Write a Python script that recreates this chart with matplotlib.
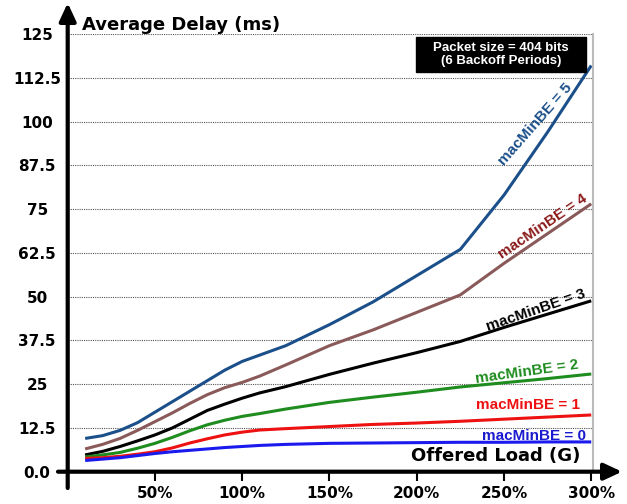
import numpy as np
import matplotlib.pyplot as plt
from matplotlib.patches import Rectangle

# offered load (%) and average delay (ms) per macMinBE value
load = [10, 20, 30, 40, 50, 60, 70, 80, 90, 100, 110, 125, 150, 175, 200, 225, 250, 275, 300]
be5 = [9.5, 10.3, 11.8, 14.0, 17.0, 20.0, 23.0, 26.0, 29.0, 31.5, 33.3, 36.0, 42.0, 48.5, 56.0, 63.5, 79.0, 97.0, 116.0]
be4 = [6.5, 7.8, 9.5, 11.8, 14.3, 16.8, 19.5, 22.0, 24.0, 25.5, 27.3, 30.5, 36.0, 40.5, 45.5, 50.5, 59.5, 68.0, 76.5]
be3 = [4.8, 5.8, 7.2, 8.8, 10.5, 12.5, 15.0, 17.5, 19.3, 21.0, 22.5, 24.3, 27.8, 31.0, 34.0, 37.2, 41.2, 45.0, 48.8]
be2 = [4.2, 4.8, 5.5, 6.7, 8.1, 9.8, 11.7, 13.4, 14.7, 15.8, 16.6, 17.9, 19.8, 21.3, 22.7, 24.2, 25.4, 26.6, 27.9]
be1 = [3.8, 4.0, 4.4, 5.0, 5.7, 6.8, 8.2, 9.4, 10.5, 11.3, 11.9, 12.3, 12.9, 13.5, 13.9, 14.4, 15.0, 15.6, 16.2]
be0 = [3.2, 3.6, 4.0, 4.6, 5.2, 5.7, 6.1, 6.5, 6.9, 7.2, 7.5, 7.8, 8.1, 8.2, 8.3, 8.4, 8.4, 8.5, 8.5]

series = [be5, be4, be3, be2, be1, be0]
line_colors = ['#1b4f8a', '#8a5a5a', '#000000', '#1e8c1e', '#ee1111', '#1a1aee']
text_colors = ['#1b4f8a', '#8b1a1a', '#000000', '#1e8c1e', '#ee1111', '#1a1ad0']
labels = ['macMinBE = 5', 'macMinBE = 4', 'macMinBE = 3', 'macMinBE = 2', 'macMinBE = 1', 'macMinBE = 0']
# label anchor (load %, delay) and rotation
label_pos = [(268, 99.3, 48.7), (272, 70, 34.2), (268, 46, 19), (263.3, 28.5, 8), (263.6, 19.1, 0), (267, 10.3, 0)]

yticks = [0, 12.5, 25, 37.5, 50, 62.5, 75, 87.5, 100, 112.5, 125]
ytick_labels = ['0.0', '12.5', '25', '37.5', '50', '62.5', '75', '87.5', '100', '112.5', '125']
xticks = [50, 100, 150, 200, 250, 300]
xtick_labels = ['50%', '100%', '150%', '200%', '250%', '300%']

W, H = 627, 504
fig = plt.figure(figsize=(W / 100, H / 100), dpi=100)
ax = fig.add_axes([67.7 / W, 32.3 / H, (593 - 67.7) / W, (471.7 - 34) / H])
ax.set_xlim(0, 301)
ax.set_ylim(0, 125)

for s, c in zip(series, line_colors):
    ax.plot(load, s, color=c, lw=2.2, solid_capstyle='butt')

for (x, y, r), lab, c in zip(label_pos, labels, text_colors):
    ax.text(x, y, lab, color=c, rotation=r, rotation_mode='anchor', ha='center', va='center',
            fontsize=11, fontweight='bold', family='Liberation Sans')

# grid
for yv in yticks[1:]:
    ax.axhline(yv, color='#555555', lw=0.8, linestyle=(0, (1, 1)), zorder=0)

for sp in ['top', 'left', 'bottom']:
    ax.spines[sp].set_visible(False)
ax.spines['right'].set_color('#bbbbbb')
ax.spines['right'].set_linewidth(1.5)

ax.set_yticks(yticks)
ax.set_yticklabels(ytick_labels, fontsize=11, fontweight='bold', ha='center')
ax.tick_params(axis='y', length=0, pad=22)
ax.set_xticks(xticks)
ax.set_xticklabels(xtick_labels, fontsize=11, fontweight='bold')
ax.tick_params(axis='x', length=6.5, width=1.5, pad=4, direction='out')

# axes with arrows
arrow = dict(arrowstyle='-|>,head_length=0.6,head_width=0.28', lw=3, color='black',
             mutation_scale=18, shrinkA=0, shrinkB=0)
ax.annotate('', xy=(67.7, H - 3), xytext=(67.7, H - 488), xycoords='figure pixels',
            textcoords='figure pixels', arrowprops=arrow, annotation_clip=False)
ax.annotate('', xy=(622, H - 471.7), xytext=(58, H - 471.7), xycoords='figure pixels',
            textcoords='figure pixels', arrowprops=arrow, annotation_clip=False)

fig.text(81.7 / W, (H - 29.5) / H, 'Average Delay (ms)', fontsize=13, fontweight='bold',
         ha='left', va='baseline')
fig.text(580 / W, (H - 461) / H, 'Offered Load (G)', fontsize=13, fontweight='bold',
         ha='right', va='baseline')

fig.add_artist(Rectangle((416 / W, (H - 71.7) / H), 170 / W, 34.4 / H,
                         transform=fig.transFigure, color='black'))
fig.text(501 / W, (H - 54.5) / H, 'Packet size = 404 bits\n(6 Backoff Periods)', color='white',
         fontsize=9.5, fontweight='bold', family='Liberation Sans', ha='center', va='center',
         linespacing=1.15)

fig.savefig('out.png', dpi=100)
